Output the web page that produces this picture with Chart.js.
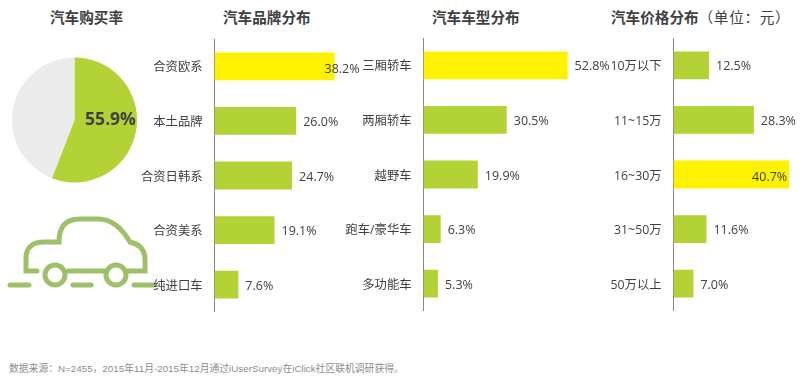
<!DOCTYPE html>
<html>
<head>
<meta charset="utf-8">
<script src="https://cdn.jsdelivr.net/npm/chart.js@4"></script>
<style>
  body { margin: 0; background: #fff; width: 803px; height: 379px; overflow: hidden; position: relative;
         font-family: "Open Sans", "Noto Sans CJK SC", sans-serif; color: #404040; }
  canvas { position: absolute; }
  svg { position: absolute; left: 0; top: 200px; }
  .title { position: absolute; top: 7px; font-size: 14.6px; line-height: 20px; font-weight: bold; white-space: nowrap; }
  .title span { font-weight: normal; letter-spacing: 0.7px; }
  #source { position: absolute; left: 9px; top: 362px; font-family: "Liberation Sans", "Noto Sans CJK SC", sans-serif;
            font-size: 9.8px; line-height: 14px; color: #8c8c8c; white-space: nowrap; }
</style>
</head>
<body>
<div class="title" style="left:50px">汽车购买率</div>
<div class="title" style="left:223px">汽车品牌分布</div>
<div class="title" style="left:432px">汽车车型分布</div>
<div class="title" style="left:611px">汽车价格分布<span>（单位：元）</span></div>

<svg width="170" height="100" fill="none" stroke="#9dc068" stroke-width="5" stroke-linecap="round">
  <path d="M37 71H26V58C26 47 33 42 44 42H59C59 26 66 19 80 19H98C113 19 123 30 130 42C139 44 145 49 145 60V71H128M104 71H68"/>
  <circle cx="55" cy="75" r="10"/>
  <circle cx="116" cy="75" r="10"/>
  <path d="M10 85H29M73 85H91M134 85H153"/>
</svg>

<canvas id="pie" width="145" height="146" style="left:2px;top:47px"></canvas>
<canvas id="brand" width="240" height="273" style="left:130px;top:39px"></canvas>
<canvas id="type" width="280" height="273" style="left:340px;top:38px"></canvas>
<canvas id="price" width="203" height="273" style="left:600px;top:38px"></canvas>

<div id="source">数据来源：N=2455，2015年11月-2015年12月通过iUserSurvey在iClick社区联机调研获得。</div>

<script>
const buyRate = [55.9, 44.1];

const brandNames = ['合资欧系', '本土品牌', '合资日韩系', '合资美系', '纯进口车'];
const brandValues = [38.2, 26.0, 24.7, 19.1, 7.6];

const typeNames = ['三厢轿车', '两厢轿车', '越野车', '跑车/豪华车', '多功能车'];
const typeValues = [52.8, 30.5, 19.9, 6.3, 5.3];

const priceNames = ['10万以下', '11~15万', '16~30万', '31~50万', '50万以上'];
const priceValues = [12.5, 28.3, 40.7, 11.6, 7.0];

const GREEN = '#b2d235';
const YELLOW = '#fff200';
const TEXT = '#404040';
const FONT = '"Open Sans", "Noto Sans CJK SC", sans-serif';

Chart.defaults.font.family = FONT;
Chart.defaults.animation = false;

// percent labels next to the bars, a highlighted bar can shift its label
const barLabels = {
  id: 'barLabels',
  afterDatasetsDraw(chart, args, opts) {
    const ctx = chart.ctx;
    const bars = chart.getDatasetMeta(0).data;
    ctx.save();
    ctx.font = '12.5px ' + FONT;
    ctx.fillStyle = TEXT;
    ctx.textBaseline = 'middle';
    bars.forEach((bar, i) => {
      const shift = opts.shift[i] || [7, 1.5];
      const value = chart.data.datasets[0].data[i].toFixed(1) + '%';
      ctx.fillText(value, bar.x + shift[0], bar.y + shift[1]);
    });
    ctx.restore();
  }
};

function barChart(id, names, values, hot, max, axisWidth, shift) {
  return new Chart(document.getElementById(id), {
    type: 'bar',
    data: {
      labels: names,
      datasets: [{
        data: values,
        backgroundColor: values.map((v, i) => i === hot ? YELLOW : GREEN),
        barPercentage: 0.51,
        categoryPercentage: 1
      }]
    },
    options: {
      indexAxis: 'y',
      responsive: false,
      scales: {
        x: { display: false, min: 0, max: max },
        y: {
          afterFit(scale) {
            // axis spans the whole canvas height, tick padding must not shrink it
            scale.width = axisWidth;
            scale.paddingTop = 0;
            scale.paddingBottom = 0;
          },
          grid: { display: false, drawTicks: false },
          border: { color: '#888888', width: 1 },
          ticks: { color: TEXT, padding: 12, labelOffset: 1.5, autoSkip: false, font: { size: 12.3 } }
        }
      },
      plugins: {
        legend: { display: false },
        tooltip: { enabled: false },
        barLabels: { shift: shift }
      }
    },
    plugins: [barLabels]
  });
}

new Chart(document.getElementById('pie'), {
  type: 'pie',
  data: {
    datasets: [{ data: buyRate, backgroundColor: [GREEN, '#ebebeb'], borderWidth: 0 }]
  },
  options: {
    responsive: false,
    radius: 62.5,
    plugins: { legend: { display: false }, tooltip: { enabled: false } }
  },
  plugins: [{
    id: 'pieLabel',
    afterDatasetsDraw(chart) {
      const ctx = chart.ctx;
      const arc = chart.getDatasetMeta(0).data[0];
      ctx.save();
      ctx.font = 'bold 17.5px ' + FONT;
      ctx.fillStyle = TEXT;
      ctx.textAlign = 'center';
      ctx.textBaseline = 'middle';
      ctx.fillText(buyRate[0].toFixed(1) + '%', arc.x + 36, arc.y);
      ctx.restore();
    }
  }]
});

barChart('brand', brandNames, brandValues, 0, 49.5, 84.5, { 0: [-10, 3] });
barChart('type', typeNames, typeValues, 0, 72, 83.5, {});
barChart('price', priceNames, priceValues, 2, 45.6, 73.5, { 2: [-37, 3] });
</script>
</body>
</html>
